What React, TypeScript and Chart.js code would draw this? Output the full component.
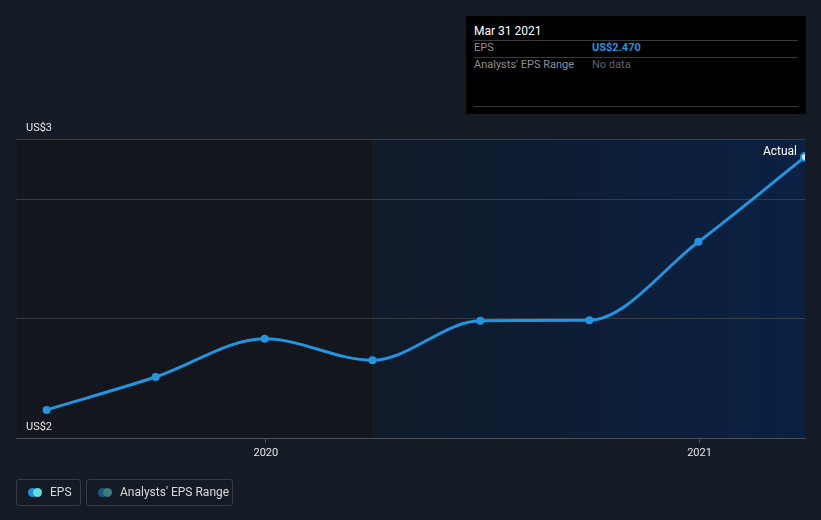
import React, { useEffect, useRef } from "react";
import { Chart, registerables } from "chart.js";

Chart.register(...registerables);

const dates = ["2019-06-30", "2019-09-30", "2019-12-31", "2020-03-31", "2020-06-30", "2020-09-30", "2020-12-31", "2021-03-31"];
const epsValues = [2.047, 2.102, 2.166, 2.130, 2.196, 2.197, 2.328, 2.47];
const yTickValues = [2.0, 2.2, 2.4, 2.5];
const yLabelValues = [2.0, 2.5];
const xTickDates = ["2020-01-01", "2021-01-01"];
const xTickLabels = ["2020", "2021"];
const forecastStart = "2020-03-31";
const xMinDate = "2019-06-05";
const xMaxDate = "2021-03-31";

const toTs = (s: string) => new Date(s + "T00:00:00Z").getTime();

const FONT = "Roboto, 'Noto Sans', sans-serif";

export default function App() {
  const ref = useRef<HTMLCanvasElement | null>(null);

  useEffect(() => {
    document.body.style.margin = "0";
    document.body.style.background = "#151b24";
    const canvas = ref.current!;
    const bgPlugin = {
      id: "bgRegions",
      beforeDraw(chart: any) {
        const { ctx, chartArea } = chart;
        const xs = chart.scales.x;
        const split = xs.getPixelForValue(toTs(forecastStart));
        ctx.save();
        ctx.fillStyle = "#13161c";
        ctx.fillRect(chartArea.left, chartArea.top, split - chartArea.left, chartArea.bottom - chartArea.top);
        const g = ctx.createLinearGradient(split, 0, chartArea.right, 0);
        g.addColorStop(0, "#101a29");
        g.addColorStop(1, "#0b2143");
        ctx.fillStyle = g;
        ctx.fillRect(split, chartArea.top, chartArea.right - split, chartArea.bottom - chartArea.top);
        ctx.fillStyle = "rgba(255,255,255,0.04)";
        ctx.fillRect(split, chartArea.top, 1, chartArea.bottom - chartArea.top);
        const ys = chart.scales.y;
        ctx.strokeStyle = "#373c45";
        ctx.lineWidth = 1;
        for (const v of yTickValues) {
          const py = Math.round(ys.getPixelForValue(v)) + 0.5;
          ctx.beginPath();
          ctx.moveTo(chartArea.left - 1, py);
          ctx.lineTo(chartArea.right, py);
          ctx.stroke();
        }
        ctx.restore();
      },
    };

    const chart = new Chart(canvas, {
      type: "line",
      data: {
        datasets: [
          {
            label: "EPS",
            data: dates.map((d, i) => ({ x: toTs(d), y: epsValues[i] })),
            borderColor: "#2394df",
            borderWidth: 3,
            pointRadius: 4,
            pointHoverRadius: 4,
            pointBackgroundColor: dates.map((_, i) => (i === dates.length - 1 ? "#cfe8fb" : "#2394df")),
            pointBorderColor: "#2394df",
            pointBorderWidth: dates.map((_, i) => (i === dates.length - 1 ? 2 : 0)),
            cubicInterpolationMode: "monotone",
            fill: false,
          },
        ],
      },
      options: {
        animation: false,
        responsive: false,
        maintainAspectRatio: false,
        layout: { padding: { left: 17, right: 16, top: 139, bottom: 0 } },
        plugins: { legend: { display: false }, tooltip: { enabled: false } },
        scales: {
          x: {
            type: "linear",
            min: toTs(xMinDate),
            max: toTs(xMaxDate),
            afterBuildTicks: (s: any) => {
              s.ticks = xTickDates.map((d) => ({ value: toTs(d) }));
            },
            afterFit: (s: any) => {
              s.height = 82;
            },
            ticks: {
              autoSkip: false,
              maxRotation: 0,
              color: "#e6e6e6",
              font: { family: FONT, size: 11 },
              padding: 4,
              callback: (v: any) => {
                const i = xTickDates.findIndex((d) => toTs(d) === v);
                return i >= 0 ? xTickLabels[i] : "";
              },
            },
            grid: { drawOnChartArea: false, drawTicks: true, tickLength: 5, color: "#4a4f57" },
            border: { display: true, color: "#4a4f57", width: 1 },
          },
          y: {
            type: "linear",
            min: 2.0,
            max: 2.5,
            afterBuildTicks: (s: any) => {
              s.ticks = yTickValues.map((v) => ({ value: v }));
            },
            afterFit: (s: any) => {
              s.width = 0;
            },
            ticks: {
              autoSkip: false,
              mirror: true,
              padding: 9,
              labelOffset: -11,
              color: "#e6e6e6",
              font: { family: FONT, size: 11 },
              callback: (v: any) => (yLabelValues.some((l) => Math.abs(l - v) < 1e-9) ? "US$" + Math.round(v) : ""),
            },
            grid: { display: false, drawTicks: false },
            border: { display: false },
          },
        },
      },
      plugins: [bgPlugin],
    } as any);
    return () => chart.destroy();
  }, []);

  const gray = "#8c9096";
  return (
    <div style={{ position: "fixed", left: 0, top: 0, width: 821, height: 520, background: "#151b24", fontFamily: FONT, overflow: "hidden" }}>
      <canvas ref={ref} width={821} height={520} style={{ position: "absolute", left: 0, top: 0, width: 821, height: 520 }} />
      <div style={{ position: "absolute", left: 466, top: 16, width: 340, height: 98, background: "#000" }}>
        <div style={{ position: "absolute", left: 8, top: 8, fontSize: 12, color: "#fff" }}>Mar 31 2021</div>
        <div style={{ position: "absolute", left: 8, right: 8, top: 24, height: 1, background: "#3a3a3a" }} />
        <div style={{ position: "absolute", left: 8, top: 25, fontSize: 11, color: gray }}>EPS</div>
        <div style={{ position: "absolute", left: 126, top: 25, fontSize: 11, color: "#2394df", fontWeight: 700 }}>US$2.470</div>
        <div style={{ position: "absolute", left: 8, right: 8, top: 41, height: 1, background: "#3a3a3a" }} />
        <div style={{ position: "absolute", left: 8, top: 42, fontSize: 11, color: gray }}>Analysts' EPS Range</div>
        <div style={{ position: "absolute", left: 126, top: 42, fontSize: 11, color: "#5f6368" }}>No data</div>
        <div style={{ position: "absolute", left: 8, right: 8, top: 90, height: 1, background: "#3a3a3a" }} />
      </div>
      <div style={{ position: "absolute", right: 24, top: 144, fontSize: 12, color: "#fff" }}>Actual</div>
      <div style={{ position: "absolute", left: 16, top: 479, width: 63, height: 25, border: "1px solid #363b44", borderRadius: 3 }}>
        <span style={{ position: "absolute", left: 11, top: 8, width: 9, height: 9, borderRadius: 5, background: "#1a8fe0" }} />
        <span style={{ position: "absolute", left: 16, top: 8, width: 9, height: 9, borderRadius: 5, background: "#5ee0dd" }} />
        <span style={{ position: "absolute", left: 33, top: 5, fontSize: 12, color: "#d9d9d9" }}>EPS</span>
      </div>
      <div style={{ position: "absolute", left: 86, top: 479, width: 145, height: 25, border: "1px solid #363b44", borderRadius: 3 }}>
        <span style={{ position: "absolute", left: 11, top: 8, width: 9, height: 9, borderRadius: 5, background: "#1c5585" }} />
        <span style={{ position: "absolute", left: 16, top: 8, width: 9, height: 9, borderRadius: 5, background: "#3a7d7c" }} />
        <span style={{ position: "absolute", left: 33, top: 5, fontSize: 12, color: "#d9d9d9" }}>Analysts' EPS Range</span>
      </div>
    </div>
  );
}
